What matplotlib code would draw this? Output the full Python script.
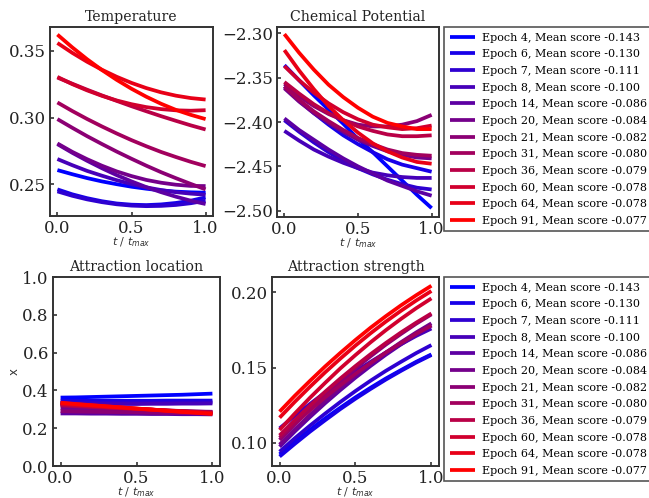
import matplotlib
matplotlib.use("Agg")
import matplotlib.pyplot as plt
from matplotlib.ticker import FuncFormatter

# Normalised time samples
t_frac = [0.0, 0.1, 0.2, 0.3, 0.4, 0.5, 0.6, 0.7, 0.8, 0.9, 1.0]

epochs = [4, 6, 7, 8, 14, 20, 21, 31, 36, 60, 64, 91]
mean_scores = [-0.143, -0.130, -0.111, -0.100, -0.086, -0.084,
               -0.082, -0.080, -0.079, -0.078, -0.078, -0.077]

temperature = [
    [0.2605, 0.2574, 0.2545, 0.2520, 0.2499, 0.2480, 0.2465, 0.2452, 0.2443, 0.2438, 0.2435],
    [0.2460, 0.2423, 0.2394, 0.2371, 0.2354, 0.2345, 0.2342, 0.2347, 0.2358, 0.2375, 0.2400],
    [0.2445, 0.2412, 0.2385, 0.2364, 0.2348, 0.2338, 0.2334, 0.2336, 0.2343, 0.2356, 0.2375],
    [0.2688, 0.2642, 0.2599, 0.2563, 0.2529, 0.2500, 0.2475, 0.2455, 0.2439, 0.2428, 0.2420],
    [0.2800, 0.2735, 0.2675, 0.2619, 0.2567, 0.2520, 0.2477, 0.2439, 0.2405, 0.2375, 0.2350],
    [0.2805, 0.2742, 0.2687, 0.2638, 0.2595, 0.2560, 0.2531, 0.2510, 0.2495, 0.2486, 0.2485],
    [0.2988, 0.2923, 0.2860, 0.2801, 0.2744, 0.2690, 0.2638, 0.2589, 0.2544, 0.2501, 0.2460],
    [0.3113, 0.3049, 0.2989, 0.2933, 0.2880, 0.2830, 0.2784, 0.2741, 0.2703, 0.2667, 0.2635],
    [0.3300, 0.3254, 0.3209, 0.3166, 0.3125, 0.3085, 0.3047, 0.3010, 0.2975, 0.2941, 0.2910],
    [0.3305, 0.3251, 0.3204, 0.3163, 0.3128, 0.3100, 0.3078, 0.3063, 0.3054, 0.3051, 0.3055],
    [0.3560, 0.3486, 0.3419, 0.3359, 0.3306, 0.3260, 0.3221, 0.3189, 0.3164, 0.3146, 0.3135],
    [0.3623, 0.3527, 0.3438, 0.3357, 0.3283, 0.3216, 0.3156, 0.3103, 0.3057, 0.3020, 0.2988],
]

chemical_potential = [
    [-2.336, -2.353, -2.370, -2.386, -2.402, -2.419, -2.434, -2.450, -2.466, -2.482, -2.497],
    [-2.360, -2.376, -2.390, -2.403, -2.415, -2.425, -2.434, -2.442, -2.448, -2.452, -2.456],
    [-2.398, -2.411, -2.423, -2.434, -2.444, -2.452, -2.459, -2.465, -2.470, -2.474, -2.476],
    [-2.410, -2.421, -2.431, -2.439, -2.446, -2.452, -2.457, -2.460, -2.462, -2.463, -2.463],
    [-2.396, -2.409, -2.420, -2.431, -2.441, -2.450, -2.458, -2.466, -2.472, -2.478, -2.483],
    [-2.362, -2.377, -2.390, -2.401, -2.411, -2.420, -2.427, -2.433, -2.437, -2.440, -2.441],
    [-2.357, -2.371, -2.382, -2.391, -2.398, -2.403, -2.405, -2.405, -2.403, -2.399, -2.392],
    [-2.360, -2.375, -2.388, -2.399, -2.409, -2.418, -2.425, -2.431, -2.435, -2.437, -2.438],
    [-2.355, -2.368, -2.380, -2.390, -2.398, -2.405, -2.410, -2.414, -2.416, -2.416, -2.415],
    [-2.337, -2.353, -2.367, -2.379, -2.389, -2.397, -2.403, -2.406, -2.408, -2.407, -2.404],
    [-2.319, -2.342, -2.363, -2.382, -2.398, -2.412, -2.424, -2.433, -2.440, -2.445, -2.447],
    [-2.301, -2.322, -2.341, -2.358, -2.372, -2.384, -2.394, -2.401, -2.405, -2.408, -2.408],
]

attraction_location = [
    [0.362, 0.363, 0.365, 0.367, 0.369, 0.371, 0.373, 0.375, 0.377, 0.380, 0.383],
    [0.345, 0.345, 0.345, 0.345, 0.345, 0.345, 0.345, 0.346, 0.346, 0.346, 0.346],
    [0.335, 0.335, 0.335, 0.335, 0.336, 0.336, 0.336, 0.336, 0.337, 0.337, 0.337],
    [0.326, 0.326, 0.327, 0.327, 0.328, 0.328, 0.329, 0.329, 0.330, 0.330, 0.331],
    [0.278, 0.278, 0.277, 0.277, 0.276, 0.276, 0.275, 0.275, 0.274, 0.274, 0.273],
    [0.305, 0.302, 0.300, 0.298, 0.296, 0.294, 0.292, 0.291, 0.289, 0.288, 0.287],
    [0.290, 0.288, 0.287, 0.286, 0.285, 0.284, 0.282, 0.281, 0.280, 0.279, 0.278],
    [0.320, 0.316, 0.312, 0.308, 0.305, 0.301, 0.298, 0.294, 0.291, 0.288, 0.285],
    [0.325, 0.320, 0.315, 0.311, 0.306, 0.302, 0.298, 0.294, 0.290, 0.286, 0.283],
    [0.330, 0.324, 0.319, 0.313, 0.308, 0.303, 0.298, 0.293, 0.289, 0.284, 0.280],
    [0.333, 0.327, 0.321, 0.315, 0.310, 0.304, 0.299, 0.293, 0.288, 0.283, 0.278],
    [0.335, 0.328, 0.322, 0.316, 0.310, 0.304, 0.298, 0.292, 0.286, 0.281, 0.275],
]

attraction_strength = [
    [0.0925, 0.1008, 0.1087, 0.1163, 0.1234, 0.1303, 0.1367, 0.1428, 0.1484, 0.1539, 0.1588],
    [0.0910, 0.0994, 0.1075, 0.1151, 0.1225, 0.1294, 0.1359, 0.1421, 0.1479, 0.1534, 0.1584],
    [0.0942, 0.1031, 0.1115, 0.1195, 0.1272, 0.1345, 0.1414, 0.1479, 0.1539, 0.1597, 0.1650],
    [0.1097, 0.1180, 0.1259, 0.1335, 0.1406, 0.1475, 0.1539, 0.1600, 0.1656, 0.1711, 0.1760],
    [0.0975, 0.1076, 0.1172, 0.1264, 0.1351, 0.1434, 0.1512, 0.1586, 0.1655, 0.1720, 0.1780],
    [0.0989, 0.1090, 0.1186, 0.1278, 0.1365, 0.1448, 0.1526, 0.1600, 0.1669, 0.1734, 0.1794],
    [0.1020, 0.1124, 0.1224, 0.1319, 0.1410, 0.1495, 0.1576, 0.1653, 0.1724, 0.1792, 0.1854],
    [0.1035, 0.1129, 0.1217, 0.1303, 0.1383, 0.1460, 0.1532, 0.1601, 0.1664, 0.1725, 0.1780],
    [0.1050, 0.1151, 0.1248, 0.1340, 0.1428, 0.1511, 0.1590, 0.1664, 0.1734, 0.1799, 0.1860],
    [0.1086, 0.1195, 0.1300, 0.1399, 0.1495, 0.1584, 0.1669, 0.1749, 0.1824, 0.1895, 0.1960],
    [0.1168, 0.1273, 0.1373, 0.1469, 0.1560, 0.1647, 0.1729, 0.1806, 0.1878, 0.1946, 0.2009],
    [0.1208, 0.1313, 0.1412, 0.1508, 0.1598, 0.1684, 0.1766, 0.1842, 0.1914, 0.1981, 0.2044],
]

plt.rcParams["font.family"] = "DejaVu Serif"
plt.rcParams["mathtext.fontset"] = "dejavusans"

W, H = 649, 498
fig = plt.figure(figsize=(W / 100, H / 100), dpi=100)


def px_axes(x0, x1, y0, y1):
    return fig.add_axes([x0 / W, 1 - y1 / H, (x1 - x0) / W, (y1 - y0) / H])


def fmt_with_minus(decimals):
    return FuncFormatter(lambda v, _: f"{v:.{decimals}f}".replace("-", "\u2212"))


n = len(epochs)
colors = [(i / (n - 1), 0.0, 1 - i / (n - 1)) for i in range(n)]
labels = [f"Epoch {e}, Mean score {s:.3f}" for e, s in zip(epochs, mean_scores)]

panels = [
    ("Temperature", temperature, (50, 213, 27, 216), (0.226, 0.368), [0.25, 0.30, 0.35], 2),
    ("Chemical Potential", chemical_potential, (277, 439, 27, 217), (-2.507, -2.293),
     [-2.50, -2.45, -2.40, -2.35, -2.30], 2),
    ("Attraction location", attraction_location, (53, 220, 277, 466), (0.0, 1.0),
     [0.0, 0.2, 0.4, 0.6, 0.8, 1.0], 1),
    ("Attraction strength", attraction_strength, (272, 439, 277, 466), (0.0847, 0.2102),
     [0.10, 0.15, 0.20], 2),
]

dark = "#333333"
for title, series, box, ylim, yticks, dec in panels:
    ax = px_axes(*box)
    for vals, c, lab in zip(series, colors, labels):
        ax.plot(t_frac, vals, color=c, lw=2.7, label=lab, solid_capstyle="butt")
    ax.set_xlim(-0.05, 1.05)
    ax.set_ylim(*ylim)
    ax.set_xticks([0.0, 0.5, 1.0])
    ax.set_yticks(yticks)
    ax.yaxis.set_major_formatter(fmt_with_minus(dec))
    ax.xaxis.set_major_formatter(fmt_with_minus(1))
    ax.tick_params(direction="in", length=3, width=1.2, labelsize=12,
                   colors=dark, labelcolor="#222222", pad=3)
    for sp in ax.spines.values():
        sp.set_color(dark)
        sp.set_linewidth(1.4)
    ax.set_title(title, fontsize=10.2, color="#222222", pad=4)
    ax.set_xlabel(r"$t$ / $t_{max}$", fontsize=8, color="#333333", labelpad=-1)
    if title == "Attraction location":
        ax.set_ylabel("x", fontsize=8.5, color="#333333",
                      family="DejaVu Sans", labelpad=1)
    if title in ("Chemical Potential", "Attraction strength"):
        handles, labs = ax.get_legend_handles_labels()
        fig.legend(handles, labs, loc="upper left",
                   bbox_to_anchor=(444 / W, 1 - box[2] / H),
                   fontsize=8.0, frameon=True, fancybox=False,
                   edgecolor="#555555", framealpha=1, borderaxespad=0,
                   handlelength=2.3, handletextpad=0.65, borderpad=0.5,
                   labelspacing=0.6).get_frame().set_linewidth(1.2)

fig.savefig("out.png", dpi=100)
